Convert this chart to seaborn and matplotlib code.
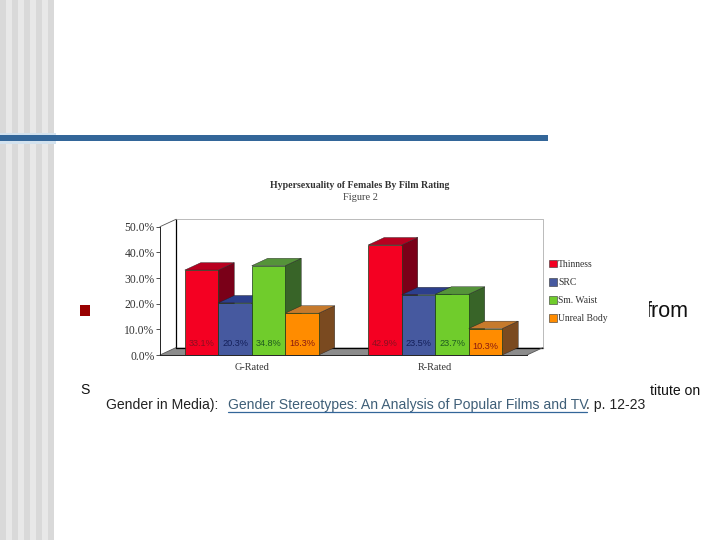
import matplotlib
matplotlib.use("Agg")
import matplotlib.pyplot as plt
import pandas as pd
import seaborn as sns
from matplotlib.patches import Polygon, Rectangle

ratings = ["G-Rated", "R-Rated"]
series = ["Thinness", "SRC", "Sm. Waist", "Unreal Body"]
thinness = [33.1, 42.9]
src = [20.3, 23.5]
waist = [34.8, 23.7]
unreal = [16.3, 10.3]
yticks = [0, 10, 20, 30, 40, 50]
face = ["#f40022", "#46599f", "#70cc2c", "#ff8c00"]
top = ["#b80020", "#2c3f8c", "#55933a", "#c67a2c"]
side = ["#7a0018", "#26367a", "#386428", "#7a4a20"]
ink = ["#8a1020", "#14205a", "#1f5a20", "#8a1a10"]

W, H = 720, 540
sns.set_theme(style="white")
plt.rcParams["font.family"] = ["Liberation Serif", "DejaVu Serif"]
fig = plt.figure(figsize=(W / 100, H / 100), dpi=100, facecolor="white")

# slide furniture, in pixel coordinates
bg = fig.add_axes([0, 0, 1, 1], zorder=-1)
bg.set_xlim(0, W)
bg.set_ylim(H, 0)
bg.axis("off")
stripe_edges = [0, 6, 12, 18, 24, 30, 36, 42, 48, 54]
for i in range(len(stripe_edges) - 1):
    bg.add_patch(Rectangle((stripe_edges[i], 0), stripe_edges[i + 1] - stripe_edges[i], H,
                           color="#d9d9d9" if i % 2 == 0 else "#e8e8e8", lw=0, zorder=1))
bg.add_patch(Rectangle((0, 132.5), 56, 11, color="#d3e2ee", lw=0, zorder=2))
bg.add_patch(Rectangle((0, 135), 548, 6, color="#336699", lw=0, zorder=3))
bg.add_patch(Rectangle((80, 305), 10, 11, color="#990000", lw=0, zorder=3))
sans = ["Liberation Sans", "DejaVu Sans"]
bg.text(688.5, 317, "from", ha="right", va="baseline", fontsize=15.5, family=sans, color="#111111", zorder=3)
bg.text(80, 394.5, "S", ha="left", va="baseline", fontsize=10.1, family=sans, color="#111111", zorder=3)
bg.text(700, 395, "titute on", ha="right", va="baseline", fontsize=10.1, family=sans, color="#111111", zorder=3)
bg.add_patch(Rectangle((91, 168), 554, 229, color="white", lw=0, zorder=4))
bg.add_patch(Rectangle((640, 295), 8.5, 30, color="white", lw=0, zorder=4))
bg.text(106, 409, "Gender in Media):", ha="left", va="baseline", fontsize=10.1, family=sans, color="#222222", zorder=5)
bg.text(228, 409, "Gender Stereotypes: An Analysis of Popular Films and TV",
        ha="left", va="baseline", fontsize=10.1, family=sans, color="#3f5f78", zorder=5)
bg.plot([228, 587], [412, 412], color="#336699", lw=0.9, zorder=5)
bg.text(586, 409, ". p. 12-23", ha="left", va="baseline", fontsize=10.1, family=sans, color="#222222", zorder=5)
bg.text(360, 186, "Hypersexuality of Females By Film Rating", ha="center", va="center",
        fontsize=7.1, fontweight="bold", color="#333333", zorder=5)
bg.text(360, 198, "Figure 2", ha="center", va="center", fontsize=7.5, color="#444444", zorder=5)

# chart: the axes span the front plane of the 3-D box
x0, x1, y0, y50 = 160, 527, 355, 226.7
ax = fig.add_axes([x0 / W, 1 - y0 / H, (x1 - x0) / W, (y0 - y50) / H], zorder=1)
ax.patch.set_alpha(0)

df = pd.DataFrame({
    "rating": ratings * 4,
    "series": sum([[s] * 2 for s in series], []),
    "value": thinness + src + waist + unreal,
})
sns.barplot(data=df, x="rating", y="value", hue="series", order=ratings, hue_order=series,
            palette=face, width=0.73, gap=0, saturation=1, edgecolor="#1a3a1a", linewidth=0.5,
            errorbar=None, ax=ax)
ax.set_xlim(-0.5, 1.5)
ax.set_ylim(0, 50)
dx = 16 / ((x1 - x0) / 2)
dy = 7.4 / (y0 - y50) * 50

# box: floor, back wall and edges derive from the axis limits
ax.add_patch(Polygon([(-0.5, 0), (1.5, 0), (1.5 + dx, dy), (-0.5 + dx, dy)],
                     closed=True, fc="#8c8c8c", ec="none", clip_on=False, zorder=0.5))
ax.plot([-0.5 + dx, -0.5 + dx], [dy, 50 + dy], color="black", lw=0.9, clip_on=False, zorder=1)
ax.plot([-0.5 + dx, 1.5 + dx], [dy, dy], color="black", lw=0.9, clip_on=False, zorder=1)
ax.plot([-0.5 + dx, 1.5 + dx, 1.5 + dx], [50 + dy, 50 + dy, dy], color="#b0b0b0", lw=0.6, clip_on=False, zorder=1)
ax.plot([-0.5, -0.5 + dx], [50, 50 + dy], color="#555555", lw=0.6, clip_on=False, zorder=1)
ax.plot([-0.5, -0.5 + dx], [0, dy], color="#555555", lw=0.6, clip_on=False, zorder=1)
ax.plot([1.5, 1.5 + dx], [0, dy], color="#555555", lw=0.6, clip_on=False, zorder=1)

# extrude each bar, left to right, so nearer faces hide neighbouring sides
for s_idx, container in enumerate(ax.containers):
    for bar in container:
        x, w, h = bar.get_x(), bar.get_width(), bar.get_height()
        z = 3 + s_idx * 2
        r = x + w
        ax.add_patch(Polygon([(r, 0), (r + dx, dy), (r + dx, h + dy), (r, h)], closed=True,
                             fc=side[s_idx], ec="#222222", lw=0.3, clip_on=False, zorder=z))
        ax.add_patch(Polygon([(x, h), (r, h), (r + dx, h + dy), (x + dx, h + dy)], closed=True,
                             fc=top[s_idx], ec="#222222", lw=0.3, clip_on=False, zorder=z))
        bar.set_zorder(z + 1)
        ax.text(x + w / 2, min(4.5, h * 0.31), f"{h:.1f}%", ha="center", va="center",
                fontsize=6.6, family=sans, color=ink[s_idx], zorder=z + 1.5)

ax.set_xlabel("")
ax.set_ylabel("")
ax.set_yticks(yticks)
ax.set_yticklabels([f"{t:.1f}%" for t in yticks], fontsize=8.4, color="#333333")
ax.set_xticks([0, 1])
ax.set_xticklabels(ratings, fontsize=7.4, color="#333333")
ax.set_xticks([-0.5, 0.5, 1.5], minor=True)
ax.tick_params(axis="x", which="major", length=0, pad=6)
ax.tick_params(axis="x", which="minor", length=2.5, width=0.5, color="#333333")
ax.tick_params(axis="y", length=3, width=0.6, color="#333333", pad=1, left=True)
for name, spine in ax.spines.items():
    spine.set_visible(name in ("left", "bottom"))
    spine.set_linewidth(0.7)
    spine.set_color("#222222")

handles = [Rectangle((0, 0), 1, 1, fc=c, ec="#333333", lw=0.4) for c in face]
leg = ax.legend(handles, series, loc="center left", bbox_to_anchor=((549 - x0) / (x1 - x0), (355 - 291.5) / (y0 - y50)),
                frameon=False, fontsize=6.9, handlelength=0.85, handleheight=0.85, handletextpad=0.1,
                labelspacing=0.93, borderpad=0, borderaxespad=0)
for t in leg.get_texts():
    t.set_color("#333333")
leg.set_zorder(20)

fig.savefig("out.png", dpi=100)
